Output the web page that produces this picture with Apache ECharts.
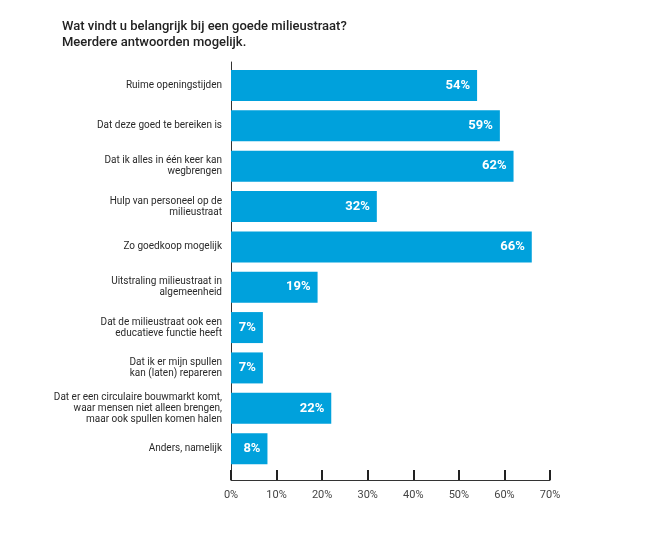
<!DOCTYPE html>
<html>
<head>
<meta charset="utf-8">
<script src="https://cdn.jsdelivr.net/npm/echarts@6/dist/echarts.min.js"></script>
<style>
html,body{margin:0;padding:0;background:#fff;}
#chart{width:647px;height:545px;}
</style>
</head>
<body>
<div id="chart"></div>
<script>
var categories = [
  'Ruime openingstijden',
  'Dat deze goed te bereiken is',
  'Dat ik alles in één keer kan\nwegbrengen',
  'Hulp van personeel op de\nmilieustraat',
  'Zo goedkoop mogelijk',
  'Uitstraling milieustraat in\nalgemeenheid',
  'Dat de milieustraat ook een\neducatieve functie heeft',
  'Dat ik er mijn spullen\nkan (laten) repareren',
  'Dat er een circulaire bouwmarkt komt,\nwaar mensen niet alleen brengen,\nmaar ook spullen komen halen',
  'Anders, namelijk'
];
var values = [54, 59, 62, 32, 66, 19, 7, 7, 22, 8];
var axisMin = 0, axisMax = 70, axisStep = 10;

var chart = echarts.init(document.getElementById('chart'));
chart.setOption({
  animation: false,
  title: {
    text: 'Wat vindt u belangrijk bij een goede milieustraat?\nMeerdere antwoorden mogelijk.',
    left: 57, top: 14,
    textStyle: {fontFamily: 'Roboto', fontSize: 13, fontWeight: 500, color: '#222', lineHeight: 16}
  },
  grid: [
    {left: 231, right: 97, top: 65.3, bottom: 76.2},
    {left: 231, right: 97, top: 62, bottom: 65}
  ],
  xAxis: [
    {gridIndex: 0, type: 'value', min: axisMin, max: axisMax, interval: axisStep, show: false},
    {gridIndex: 1, type: 'value', min: axisMin, max: axisMax, interval: axisStep,
      axisLine: {show: true, lineStyle: {color: '#333', width: 1}},
      axisTick: {show: true, inside: true, length: 10, lineStyle: {color: '#222', width: 2}},
      splitLine: {show: false},
      axisLabel: {formatter: '{value}%', fontFamily: 'Roboto', fontSize: 11, color: '#444', margin: 10}
    }
  ],
  yAxis: [
    {gridIndex: 0, type: 'category', data: categories, inverse: true,
      axisLine: {show: false}, axisTick: {show: false},
      axisLabel: {fontFamily: 'Roboto', fontSize: 10, color: '#2a2a2a', lineHeight: 11, margin: 9}
    },
    {gridIndex: 1, type: 'value', min: 0, max: 1,
      axisLine: {show: true, lineStyle: {color: '#333', width: 1}},
      axisTick: {show: false}, axisLabel: {show: false}, splitLine: {show: false}
    }
  ],
  series: [{
    type: 'bar',
    xAxisIndex: 0, yAxisIndex: 0,
    data: values,
    barWidth: 31,
    itemStyle: {color: '#00a1dc'},
    label: {show: true, position: 'insideRight', distance: 7, formatter: '{c}%',
      fontFamily: 'Roboto', fontSize: 13, fontWeight: 'bold', color: '#fff'}
  }]
});
</script>
</body>
</html>
